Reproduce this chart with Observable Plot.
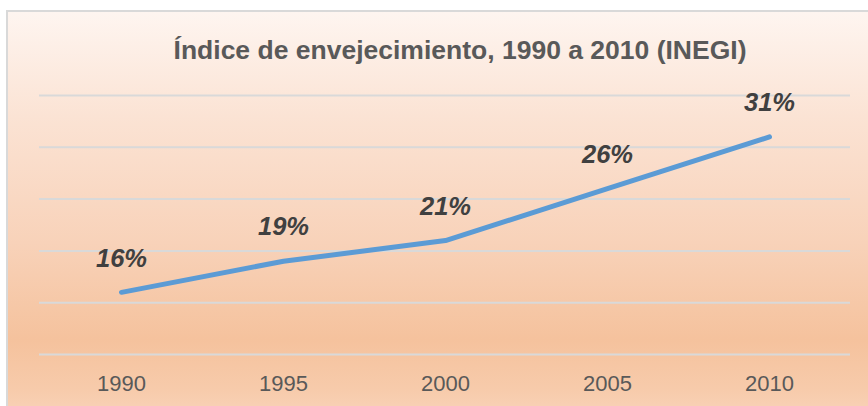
<!DOCTYPE html>
<html>
<head>
<meta charset="utf-8">
<script src="https://cdn.jsdelivr.net/npm/d3@7"></script>
<script src="https://cdn.jsdelivr.net/npm/@observablehq/plot@0.6"></script>
<style>
  html, body { margin: 0; padding: 0; background: #ffffff; }
  #wrap { position: relative; width: 868px; height: 406px; overflow: hidden; }
  #panel {
    position: absolute; left: 6px; top: 10px; width: 880px; height: 420px;
    border-left: 2px solid #d9d9d9; border-top: 2px solid #d9d9d9;
    background: linear-gradient(to bottom, #fef5f0 0%, #fbe3d4 25%, #f8d2b9 55%, #f5c29d 78%, #f7cbab 90%, #fad8c2 100%);
  }
  #chart { position: absolute; left: 0; top: 0; }
</style>
</head>
<body>
<div id="wrap"><div id="panel"></div><div id="chart"></div></div>
<script>
const years = [1990, 1995, 2000, 2005, 2010];
const values = [16, 19, 21, 26, 31];
const labels = ["16%", "19%", "21%", "26%", "31%"];
const gridTicks = [10, 15, 20, 25, 30, 35];
const title = "Índice de envejecimiento, 1990 a 2010 (INEGI)";

const data = years.map((y, i) => ({year: y, value: values[i], label: labels[i]}));

const chart = Plot.plot({
  width: 868,
  height: 406,
  marginLeft: 39,
  marginRight: 18,
  marginTop: 95,
  marginBottom: 52,
  style: {background: "transparent", fontFamily: "'Liberation Sans', Arial, sans-serif", overflow: "visible"},
  x: {type: "point", domain: years, padding: 0.5, label: null},
  y: {domain: [10, 35], axis: null},
  marks: [
    Plot.ruleY(gridTicks, {stroke: "#d9d9d9", strokeWidth: 2}),
    Plot.axisX({tickSize: 0, tickPadding: 21, fontSize: 22, fill: "#595959", label: null, tickFormat: d => String(d)}),
    Plot.line(data, {x: "year", y: "value", stroke: "#5b9bd5", strokeWidth: 5, strokeLinecap: "round", strokeLinejoin: "round"}),
    Plot.text(data, {x: "year", y: "value", text: "label", dy: -34, fontSize: 25.5, fontWeight: "bold", fontStyle: "italic", fill: "#404040"}),
    Plot.text([title], {frameAnchor: "top", dx: 15, dy: -55, fontSize: 26.5, fontWeight: "bold", fill: "#595959"})
  ]
});
document.getElementById("chart").appendChild(chart);
</script>
</body>
</html>
